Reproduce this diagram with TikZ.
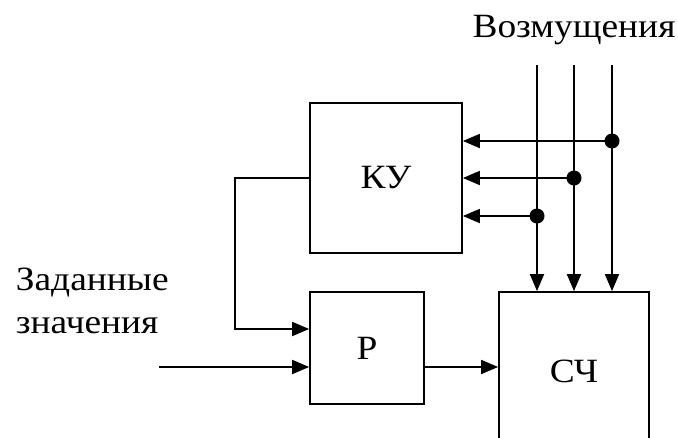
\documentclass[tikz,border=0pt]{standalone}
\usepackage{fontspec}
\setmainfont{Liberation Serif}[FakeStretch=1.1]
\usetikzlibrary{arrows.meta}

\begin{document}
\begin{tikzpicture}[
    x=1pt, y=-1pt,
    >={Triangle[length=17pt, width=14pt]},
    line width=1.8pt,
    blk/.style={draw, inner sep=0pt, font=\fontsize{34}{40}\selectfont},
    lbl/.style={inner sep=0pt, font=\fontsize{34}{40}\selectfont},
    dot/.style={circle, fill, inner sep=0pt, minimum size=15pt}]
    \useasboundingbox (0,0) rectangle (678,437);
    % blocks
    \node[blk, minimum width=152pt, minimum height=150pt] (ku) at (386,178) {КУ};
    \node[blk, minimum width=114pt, minimum height=112pt] (reg) at (367,348) {Р};
    \node[blk, minimum width=150pt, minimum height=158pt] (sch) at (574,371) {СЧ};
    % labels
    \node[lbl, anchor=base] (dist) at (574,37) {Возмущения};
    \node[lbl, anchor=base west] (set1) at (15,290) {Заданные};
    \node[lbl, anchor=base west] (set2) at (15,333) {значения};
    % disturbances
    \coordinate (d1) at (537,65);
    \coordinate (d2) at (574,65);
    \coordinate (d3) at (612,65);
    \node[dot] (j1) at (537,216) {};
    \node[dot] (j2) at (574,178) {};
    \node[dot] (j3) at (612,141) {};
    \draw[->] (d1) -- (d1 |- sch.north);
    \draw[->] (d2) -- (d2 |- sch.north);
    \draw[->] (d3) -- (d3 |- sch.north);
    \draw[->] (j1.center) -- (j1 -| ku.east);
    \draw[->] (j2.center) -- (j2 -| ku.east);
    \draw[->] (j3.center) -- (j3 -| ku.east);
    % feedback and inputs
    \coordinate (in) at (159,367);
    \draw[->] (ku.west) -| (235,329) -- (reg.west |- 0,329);
    \draw[->] (in) -- (in -| reg.west);
    \draw[->] (reg.east |- in) -- (sch.west |- in);
\end{tikzpicture}
\end{document}
